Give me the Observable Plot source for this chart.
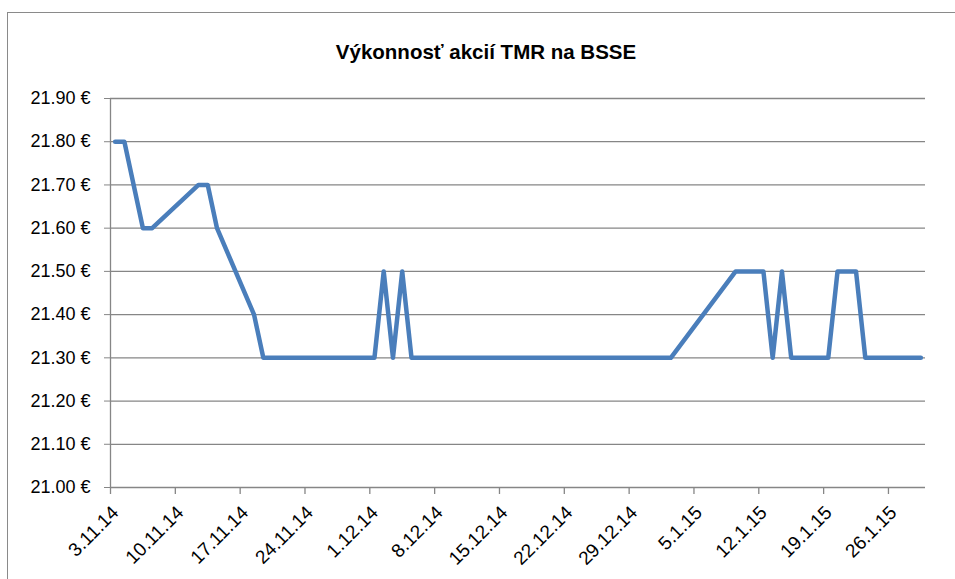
<!DOCTYPE html>
<html><head><meta charset="utf-8">
<script src="https://cdn.jsdelivr.net/npm/d3@7"></script>
<script src="https://cdn.jsdelivr.net/npm/@observablehq/plot@0.6"></script>
<style>
html,body{margin:0;padding:0;background:#fff;}
#wrap{position:relative;width:955px;height:579px;overflow:hidden;font-family:"Liberation Sans",Arial,sans-serif;}
#frame{position:absolute;left:7px;top:12px;width:1000px;height:700px;border-left:1.5px solid #8a8a8a;border-top:1.5px solid #8a8a8a;}
#title{position:absolute;left:486px;top:40px;transform:translateX(-50%);font-size:20.5px;font-weight:bold;white-space:nowrap;line-height:1.15;color:#000;}
#chart{position:absolute;left:0;top:0;}
</style></head><body>
<div id="wrap"><div id="frame"></div><div id="title">Výkonnosť akcií TMR na BSSE</div><div id="chart"></div></div>
<script>
// Trading days where the price line changes direction
const dates = ["2014-11-03","2014-11-04","2014-11-06","2014-11-07","2014-11-12","2014-11-13","2014-11-14","2014-11-18","2014-11-19",
  "2014-12-01","2014-12-02","2014-12-03","2014-12-04","2014-12-05",
  "2015-01-02","2015-01-09","2015-01-12","2015-01-13","2015-01-14","2015-01-15","2015-01-19","2015-01-20","2015-01-22","2015-01-23","2015-01-29"];
const prices = [21.80,21.80,21.60,21.60,21.70,21.70,21.60,21.40,21.30,
  21.30,21.50,21.30,21.50,21.30,
  21.30,21.50,21.50,21.30,21.50,21.30,21.30,21.50,21.50,21.30,21.30];
const tickDates = ["2014-11-03","2014-11-10","2014-11-17","2014-11-24","2014-12-01","2014-12-08","2014-12-15","2014-12-22","2014-12-29","2015-01-05","2015-01-12","2015-01-19","2015-01-26"];
const yTicks = [21.00,21.10,21.20,21.30,21.40,21.50,21.60,21.70,21.80,21.90];
const xStart = "2014-11-03", xEnd = "2015-01-30";
const title = "Výkonnosť akcií TMR na BSSE";

const day = s => new Date(s + "T00:00:00Z");
const noon = s => new Date(s + "T12:00:00Z");
const data = dates.map((d, i) => ({date: noon(d), price: prices[i]}));
const fmt = d => `${d.getUTCDate()}.${d.getUTCMonth() + 1}.${String(d.getUTCFullYear()).slice(2)}`;
const grey = "#868686";
const xt = tickDates.map(day);

const chart = Plot.plot({
  width: 955, height: 579,
  marginLeft: 110, marginRight: 30, marginTop: 98, marginBottom: 92,
  style: {fontFamily: "'Liberation Sans', Arial, sans-serif", fontSize: "17px", background: "transparent", overflow: "visible", color: "#000"},
  x: {type: "utc", domain: [day(xStart), day(xEnd)]},
  y: {domain: [yTicks[0], yTicks[yTicks.length - 1]]},
  marks: [
    Plot.gridY(yTicks, {stroke: grey, strokeOpacity: 1, strokeWidth: 1.3}),
    Plot.ruleX([day(xStart)], {stroke: grey, strokeWidth: 1.3}),
    Plot.axisY(yTicks, {tickSize: 6, tickPadding: 14, tickFormat: d => d.toFixed(2) + " €", stroke: grey, fill: "#000", fontSize: 18, label: null}),
    Plot.axisX(xt, {tickSize: 7, tickFormat: () => "", stroke: grey, strokeWidth: 1.3, label: null}),
    Plot.axisX(xt, {tickSize: 0, tickRotate: -45, tickPadding: 22, dx: 5, tickFormat: fmt, fill: "#000", fontSize: 19, label: null}),
    Plot.line(data, {x: "date", y: "price", stroke: "#4A7EBB", strokeWidth: 4.5})
  ]
});
document.getElementById("chart").appendChild(chart);
document.getElementById("title").textContent = title;
</script>
</body></html>
